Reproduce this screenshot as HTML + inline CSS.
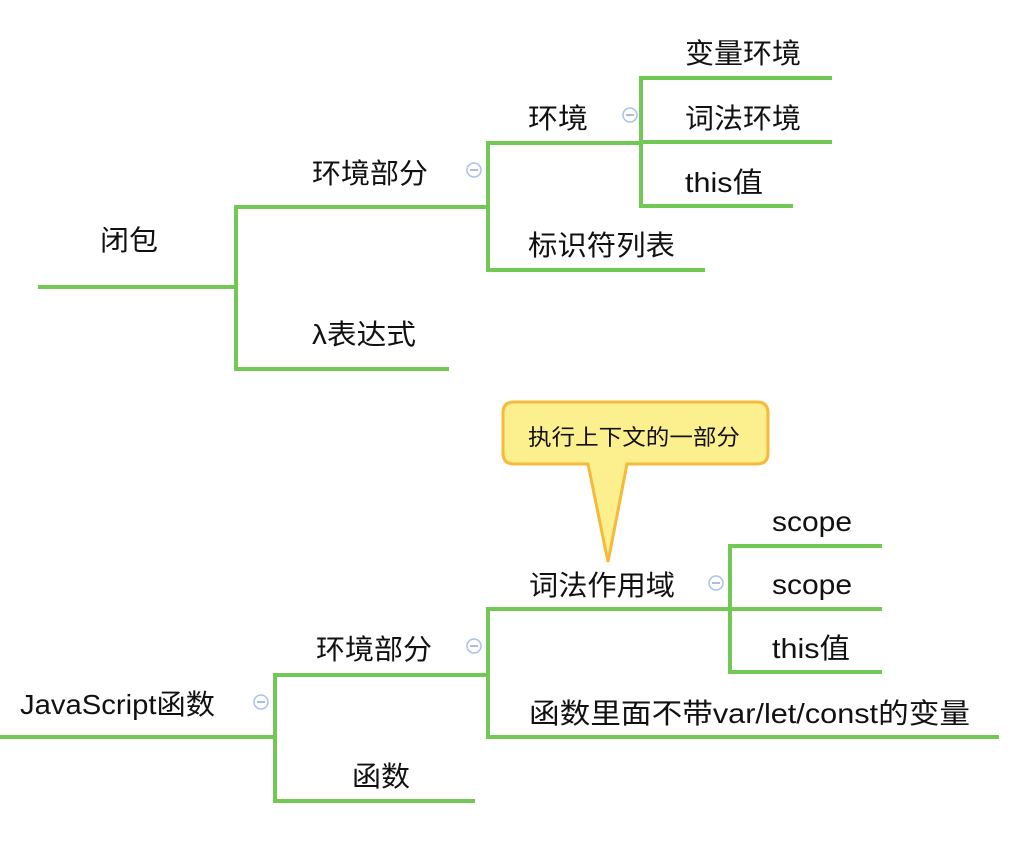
<!DOCTYPE html>
<html><head><meta charset="utf-8"><style>
html,body{margin:0;padding:0;background:#fff;width:1034px;height:854px;overflow:hidden}
text{font-family:"Liberation Sans","Noto Sans CJK SC",sans-serif;fill:#111}
</style></head><body>
<svg width="1034" height="854" viewBox="0 0 1034 854" xmlns="http://www.w3.org/2000/svg">
<g stroke="#72c854" stroke-width="4" fill="none" stroke-linecap="square">
<path d="M40 287H236M236 207V369M236 207H488M236 369H447"/>
<path d="M488 143V270M488 143H641M488 270H703"/>
<path d="M641 78V206M641 78H830M641 142H830M641 206H791"/>
<path d="M0 737H275M275 675V801M275 675H488M275 801H473"/>
<path d="M488 609V737M488 609H730M488 737H997"/>
<path d="M730 546V672M730 546H880M730 609H880M730 672H880"/>
</g>
<g fill="#fff" stroke="#a9c3ea" stroke-width="1.5">
<circle cx="630" cy="115" r="7"/><circle cx="474" cy="170" r="7"/>
<circle cx="261" cy="702" r="7"/><circle cx="474" cy="646" r="7"/><circle cx="716" cy="583" r="7"/>
</g>
<g stroke="#8fa8d8" stroke-width="1.5">
<path d="M626 115h8M470 170h8M257 702h8M470 646h8M712 583h8"/>
</g>
<g font-size="28" lengthAdjust="spacingAndGlyphs">
<text x="100" y="250" textLength="58" lengthAdjust="spacingAndGlyphs">闭包</text>
<text x="312" y="183" textLength="116" lengthAdjust="spacingAndGlyphs">环境部分</text>
<text x="312" y="344" textLength="104" lengthAdjust="spacingAndGlyphs">λ表达式</text>
<text x="528" y="128" textLength="60" lengthAdjust="spacingAndGlyphs">环境</text>
<text x="528" y="255" textLength="147" lengthAdjust="spacingAndGlyphs">标识符列表</text>
<text x="685" y="63" textLength="116" lengthAdjust="spacingAndGlyphs">变量环境</text>
<text x="685" y="128" textLength="116" lengthAdjust="spacingAndGlyphs">词法环境</text>
<text x="685" y="192" textLength="78" lengthAdjust="spacingAndGlyphs">this值</text>
<text x="20" y="714" textLength="195" lengthAdjust="spacingAndGlyphs">JavaScript函数</text>
<text x="316" y="659" textLength="116" lengthAdjust="spacingAndGlyphs">环境部分</text>
<text x="352" y="786" textLength="58" lengthAdjust="spacingAndGlyphs">函数</text>
<text x="529" y="595" textLength="146" lengthAdjust="spacingAndGlyphs">词法作用域</text>
<text x="529" y="723" textLength="441" lengthAdjust="spacingAndGlyphs">函数里面不带var/let/const的变量</text>
<text x="772" y="531" textLength="80" lengthAdjust="spacingAndGlyphs">scope</text>
<text x="772" y="594" textLength="80" lengthAdjust="spacingAndGlyphs">scope</text>
<text x="772" y="658" textLength="78" lengthAdjust="spacingAndGlyphs">this值</text>
</g>
<path d="M514 402H757Q768 402 768 413V453Q768 464 757 464H627L608 562L588 464H514Q503 464 503 453V413Q503 402 514 402Z" fill="#fcef8e" stroke="#f6b93a" stroke-width="3"/>
<text x="528" y="445" font-size="22" textLength="212" lengthAdjust="spacingAndGlyphs">执行上下文的一部分</text>
</svg>
</body></html>
